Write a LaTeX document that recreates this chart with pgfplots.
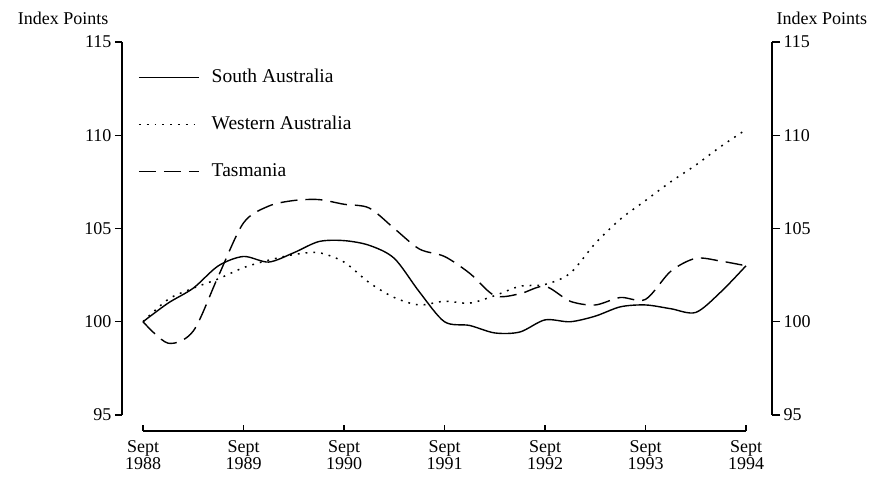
\documentclass[border=0pt]{standalone}
\usepackage{fontspec}
\setmainfont{Liberation Serif}
\usepackage{pgfplots}
\pgfplotsset{compat=1.18}

\pgfplotstableread{
q v
0 100.0
1 101.0
2 101.8
3 103.0
4 103.5
5 103.2
6 103.7
7 104.3
8 104.35
9 104.1
10 103.4
11 101.6
12 100.0
13 99.8
14 99.4
15 99.45
16 100.1
17 100.0
18 100.3
19 100.8
20 100.9
21 100.7
22 100.5
23 101.6
24 103.0
}\SA

\pgfplotstableread{
q v
0 100.0
1 101.2
2 101.8
3 102.3
4 102.9
5 103.3
6 103.6
7 103.7
8 103.2
9 102.1
10 101.3
11 100.9
12 101.1
13 101.0
14 101.4
15 101.9
16 102.0
17 102.6
18 104.2
19 105.5
20 106.5
21 107.5
22 108.4
23 109.4
24 110.3
}\WA

\pgfplotstableread{
q v
0 100.0
1 98.85
2 99.5
3 102.45
4 105.3
5 106.2
6 106.5
7 106.55
8 106.3
9 106.1
10 105.0
11 103.9
12 103.5
13 102.6
14 101.4
15 101.5
16 101.9
17 101.1
18 100.9
19 101.3
20 101.2
21 102.7
22 103.4
23 103.25
24 103.0
}\TAS

\newcommand{\fs}{\fontsize{18}{17}\selectfont}
\newcommand{\fl}{\fontsize{19.5}{19}\selectfont}

\begin{document}
\begin{tikzpicture}[font=\fs]
\useasboundingbox (0,0) rectangle (889pt,489pt);
\begin{axis}[
  at={(122pt,58pt)}, anchor=south west,
  scale only axis, width=650pt, height=389pt,
  xmin=-0.836, xmax=25.035, ymin=94.142, ymax=115,
  clip=false,
  axis line style={draw=none},
  /pgf/number format/assume math mode=true,
  xtick={0,4,8,12,16,20,24},
  xticklabels={{Sept\\1988},{Sept\\1989},{Sept\\1990},{Sept\\1991},{Sept\\1992},{Sept\\1993},{Sept\\1994}},
  xticklabel style={align=center, font=\fs, yshift=1pt},
  xtick style={draw=none},
  xtick pos=bottom,
  ytick={95,100,105,110,115},
  ytick pos=left,
  yticklabel style={font=\fs},
  tick align=outside,
  major tick length=7pt,
  ytick style={line width=1.2pt, black},
  legend style={at={(rel axis cs:0.0246,0.9306)}, anchor=north west, draw=none, fill=none,
    inner sep=0pt, row sep=30pt, font=\fl,
    nodes={inner sep=0pt, text height=13pt, text depth=4pt}},
  legend cell align=left,
  legend image code/.code={\draw[#1] (0pt,0pt) -- (60pt,0pt); \path (72pt,0pt);},
]
\addplot[black, line width=1.4pt, smooth, tension=0.5] table[x=q,y=v] {\SA};
\addlegendentry{South Australia}
\addplot[black, line width=1.5pt, dash pattern=on 1.8pt off 6pt, smooth, tension=0.5] table[x=q,y=v] {\WA};
\addlegendentry{Western Australia}
\addplot[black, line width=1.4pt, dash pattern=on 17pt off 8pt, smooth, tension=0.5] table[x=q,y=v] {\TAS};
\addlegendentry{Tasmania}
% axis lines
\draw[line width=1.3pt] (axis cs:-0.836,95) -- (axis cs:-0.836,115);
\draw[line width=1.3pt] (axis cs:25.035,95) -- (axis cs:25.035,115);
\draw[line width=1.3pt] (axis cs:0,94.142) -- (axis cs:24,94.142);
\draw[line width=1.2pt] (axis cs:0,94.142) -- ([yshift=6pt]axis cs:0,94.142);
\draw[line width=1.2pt] (axis cs:4,94.142) -- ([yshift=6pt]axis cs:4,94.142);
\draw[line width=1.2pt] (axis cs:8,94.142) -- ([yshift=6pt]axis cs:8,94.142);
\draw[line width=1.2pt] (axis cs:12,94.142) -- ([yshift=6pt]axis cs:12,94.142);
\draw[line width=1.2pt] (axis cs:16,94.142) -- ([yshift=6pt]axis cs:16,94.142);
\draw[line width=1.2pt] (axis cs:20,94.142) -- ([yshift=6pt]axis cs:20,94.142);
\draw[line width=1.2pt] (axis cs:24,94.142) -- ([yshift=6pt]axis cs:24,94.142);
\node[anchor=east, font=\fs] at (rel axis cs:0,1) [xshift=-10pt, yshift=24pt] {Index Points};
\node[anchor=west, font=\fs] at (rel axis cs:1,1) [xshift=1pt, yshift=24pt] {Index Points};
\end{axis}
\begin{axis}[
  at={(122pt,58pt)}, anchor=south west,
  scale only axis, width=650pt, height=389pt,
  xmin=-0.836, xmax=25.035, ymin=94.142, ymax=115,
  hide x axis,
  axis y line*=right,
  y axis line style={draw=none},
  /pgf/number format/assume math mode=true,
  ytick={95,100,105,110,115},
  yticklabel style={font=\fs},
  tick align=outside,
  major tick length=8pt,
  ytick style={line width=1.2pt, black},
]
\end{axis}
\end{tikzpicture}
\end{document}
